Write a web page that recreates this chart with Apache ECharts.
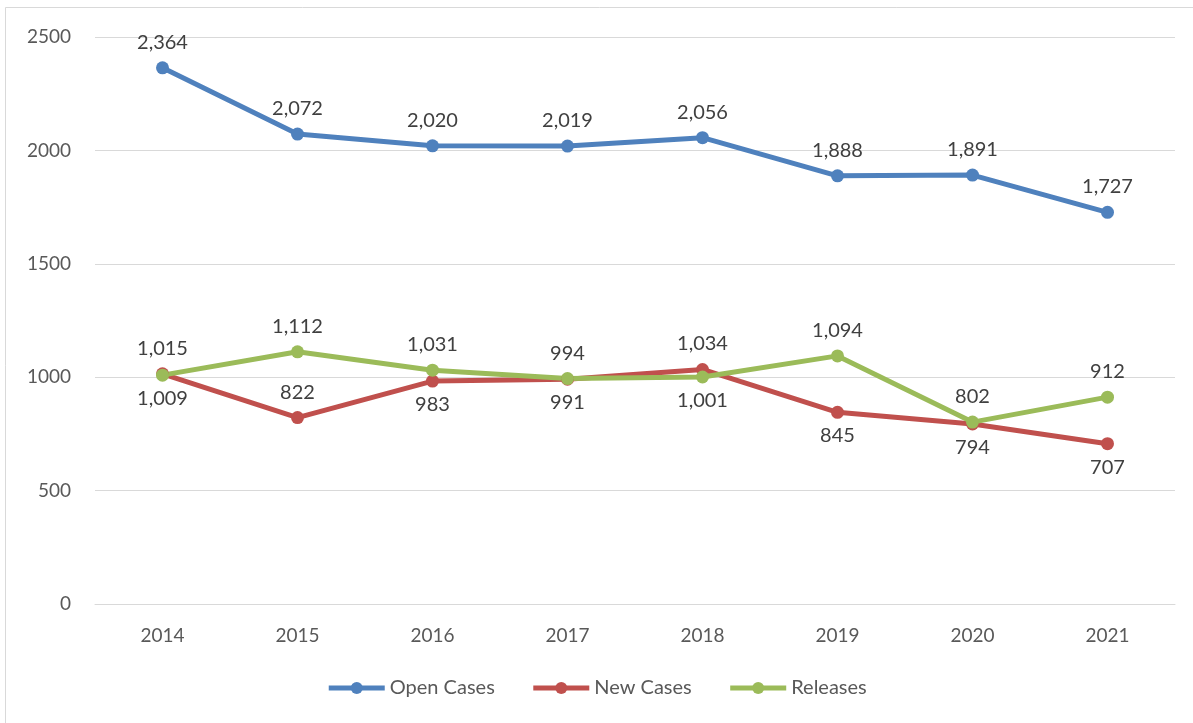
<!DOCTYPE html>
<html>
<head>
<meta charset="utf-8">
<script src="https://cdn.jsdelivr.net/npm/echarts@6/dist/echarts.min.js"></script>
<style>
  html, body { margin: 0; padding: 0; background: #fff; }
  #chart { width: 1193px; height: 723px; }
</style>
</head>
<body>
<div id="chart"></div>
<script>
var years = ['2014', '2015', '2016', '2017', '2018', '2019', '2020', '2021'];
var openCases = [2364, 2072, 2020, 2019, 2056, 1888, 1891, 1727];
var newCases = [1015, 822, 983, 991, 1034, 845, 794, 707];
var releases = [1009, 1112, 1031, 994, 1001, 1094, 802, 912];
// where each label sits (above or below its point)
var newPos = ['top', 'top', 'bottom', 'bottom', 'top', 'bottom', 'bottom', 'bottom'];
var relPos = ['bottom', 'top', 'top', 'top', 'bottom', 'top', 'top', 'top'];

var font = 'Lato, "Open Sans", sans-serif';
var textColor = '#404040';

function fmt(v) {
  return v.toLocaleString('en-US');
}

function withPos(values, pos) {
  return values.map(function (v, i) {
    return { value: v, label: { position: pos[i], distance: pos[i] === 'top' ? 9 : 7 } };
  });
}

function lineSeries(name, data, color) {
  return {
    name: name,
    type: 'line',
    data: data,
    symbol: 'circle',
    symbolSize: 13,
    lineStyle: { width: 5, color: color },
    itemStyle: { color: color },
    label: {
      show: true,
      position: 'top',
      distance: 9,
      color: textColor,
      fontFamily: font,
      fontSize: 20,
      formatter: function (p) { return fmt(p.value); }
    },
    animation: false
  };
}

var myChart = echarts.init(document.getElementById('chart'));
var option = {
  backgroundColor: '#fff',
  textStyle: { fontFamily: font },
  graphic: [{
    type: 'rect',
    shape: { x: 5.5, y: 7.5, width: 1200, height: 730 },
    style: { fill: 'none', stroke: '#d9d9d9', lineWidth: 1 },
    silent: true
  }],
  grid: { left: 95, right: 18, top: 37, bottom: 119 },
  legend: {
    bottom: 20,
    left: 'center',
    itemWidth: 56,
    itemHeight: 15,
    itemGap: 36,
    lineStyle: { width: 5 },
    textStyle: { color: '#595959', fontSize: 20, fontFamily: font },
    data: ['Open Cases', 'New Cases', 'Releases']
  },
  xAxis: {
    type: 'category',
    data: years,
    boundaryGap: true,
    axisLine: { lineStyle: { color: '#d9d9d9', width: 1 } },
    axisTick: { show: false },
    axisLabel: { color: '#595959', fontSize: 19, margin: 22, fontFamily: font }
  },
  yAxis: {
    type: 'value',
    min: 0,
    max: 2500,
    interval: 500,
    axisLine: { show: false },
    axisTick: { show: false },
    splitLine: { lineStyle: { color: '#d9d9d9', width: 1 } },
    axisLabel: { color: '#595959', fontSize: 19, margin: 24, fontFamily: font, formatter: function (v) { return String(v); } }
  },
  series: [
    lineSeries('Open Cases', openCases, '#4f81bd'),
    lineSeries('New Cases', withPos(newCases, newPos), '#c0504d'),
    lineSeries('Releases', withPos(releases, relPos), '#9bbb59')
  ]
};
myChart.setOption(option);
</script>
</body>
</html>
